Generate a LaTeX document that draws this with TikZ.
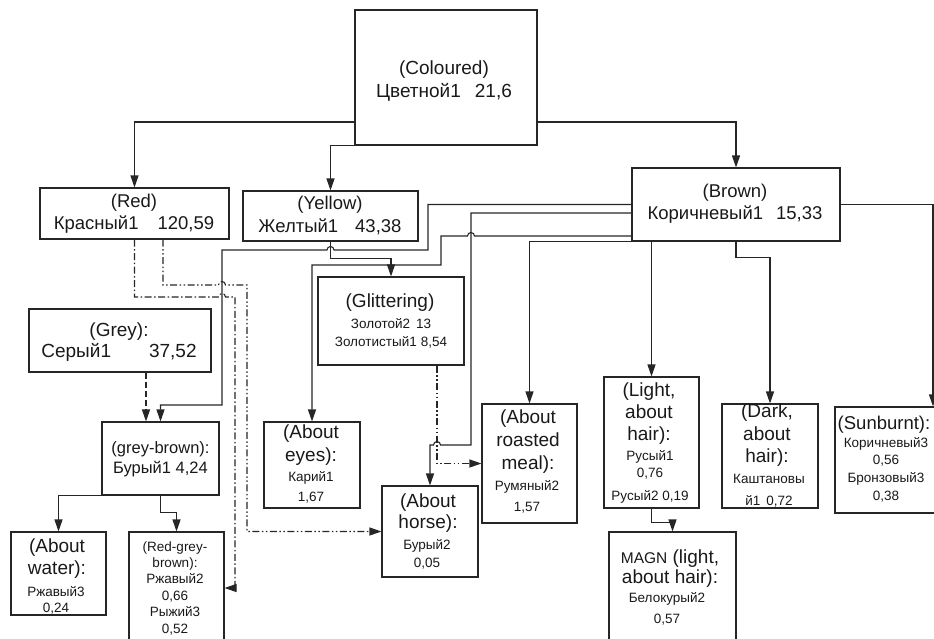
\documentclass[tikz,border=0pt]{standalone}
\usepackage{fontspec}
\setmainfont{Liberation Sans}
\usetikzlibrary{arrows.meta}

% font size / baseline skip shortcut
\newcommand\fsz[2]{\fontsize{#1}{#2}\selectfont}

\begin{document}
\begin{tikzpicture}[x=1pt,y=-1pt,
  box/.style={draw=black!85, line width=1.1pt, inner sep=0pt, rectangle},
  wire/.style={draw=black!85, line width=1.1pt},
  arr/.style={wire, -{Triangle[length=12pt,width=8pt]}},
  dashdot/.style={dash pattern=on 7pt off 2.5pt on 1.5pt off 2.5pt},
  dashdotdot/.style={dash pattern=on 7pt off 2.5pt on 1.5pt off 2.5pt on 1.5pt off 2.5pt},
  lbl/.style={align=center, inner sep=0pt, text=black!90},
]
\useasboundingbox (0,0) rectangle (934,638);
\clip (0,0) rectangle (934,638);

% ---- boxes ----
\node[box, minimum width=182pt, minimum height=135pt] (col)   at (446,77.5)  {};
\node[box, minimum width=189pt, minimum height=51pt]  (red)   at (134.5,213.5) {};
\node[box, minimum width=175pt, minimum height=50pt]  (yel)   at (330.5,216) {};
\node[box, minimum width=208pt, minimum height=73pt]  (brown) at (736,204.5) {};
\node[box, minimum width=182pt, minimum height=63pt]  (grey)  at (120,340.5) {};
\node[box, minimum width=146pt, minimum height=88pt]  (glit)  at (391,321) {};
\node[box, minimum width=117pt, minimum height=73pt]  (gb)    at (160.5,458.5) {};
\node[box, minimum width=95pt,  minimum height=83pt]  (water) at (58.5,573.5) {};
\node[box, minimum width=95pt,  minimum height=118pt] (rgb)   at (176.5,591) {};
\node[box, minimum width=96pt,  minimum height=86pt]  (eyes)  at (312,465) {};
\node[box, minimum width=96pt,  minimum height=91pt]  (horse) at (430,531.5) {};
\node[box, minimum width=95pt,  minimum height=119pt] (meal)  at (529.5,463.5) {};
\node[box, minimum width=95pt,  minimum height=131pt] (light) at (651.5,442.5) {};
\node[box, minimum width=96pt,  minimum height=104pt] (dark)  at (770,456) {};
\node[box, minimum width=106pt, minimum height=106pt] (sun)   at (888,460) {};
\node[box, minimum width=127pt, minimum height=118pt] (magn)  at (672.5,591) {};

% ---- labels ----
\node[lbl, font={\fsz{19}{23}}]   (col-t)   at (444,81.5) {(Coloured)\\Цветной1\hspace{14pt}21,6};
\node[lbl, font={\fsz{18.5}{22}}] (red-t)   at (134,214) {(Red)\\Красный1\hspace{19pt}120,59};
\node[lbl, font={\fsz{18.5}{23}}] (yel-t)   at (330,215) {(Yellow)\\Желтый1\hspace{17pt}43,38};
\node[lbl, font={\fsz{18.5}{22}}] (brown-t) at (735,204) {(Brown)\\Коричневый1\hspace{13pt}15,33};
\node[lbl, font={\fsz{19}{21}}]   (grey-t)  at (119,342) {(Grey):\\Серый1\hspace{38pt}37,52};
\node[lbl, font={\fsz{19}{22}}]   (glit-a)  at (390,303) {(Glittering)};
\node[lbl, font={\fsz{13.5}{18}}] (glit-b)  at (391,333) {Золотой2\hspace{6pt}13\\Золотистый1\hspace{4pt}8,54};
\node[lbl, font={\fsz{16.5}{20}}] (gb-t)    at (160.5,459) {(grey-brown):\\Бурый1 4,24};
\node[lbl, font={\fsz{19}{22}}]   (water-a) at (57,559) {(About\\water):};
\node[lbl, font={\fsz{13.5}{16}}] (water-b) at (56,600) {Ржавый3\\0,24};
\node[lbl, font={\fsz{13.5}{16.4}}] (rgb-t) at (175,588) {(Red-grey-\\brown):\\Ржавый2\\0,66\\Рыжий3\\0,52};
\node[lbl, font={\fsz{19}{23.5}}] (eyes-a)  at (311,445) {(About\\eyes):};
\node[lbl, font={\fsz{13.5}{20}}] (eyes-b)  at (311,487) {Карий1\\1,67};
\node[lbl, font={\fsz{19}{21}}]   (horse-a) at (428,513.5) {(About\\horse):};
\node[lbl, font={\fsz{13.5}{18}}] (horse-b) at (427,554) {Бурый2\\0,05};
\node[lbl, font={\fsz{19}{23}}]   (meal-a)  at (528,442) {(About\\roasted\\meal):};
\node[lbl, font={\fsz{13.5}{21}}] (meal-b)  at (527,496.5) {Румяный2\\1,57};
\node[lbl, font={\fsz{19}{22}}]   (light-a) at (649,414) {(Light,\\about\\hair):};
\node[lbl, font={\fsz{13.5}{17}}] (light-b) at (650,477) {Русый1\\0,76\\[6pt]Русый2 0,19};
\node[lbl, font={\fsz{19}{22.5}}] (dark-a)  at (767,435.5) {(Dark,\\about\\hair):};
\node[lbl, font={\fsz{13.5}{22}}] (dark-b)  at (769,491) {Каштановы\\й1\hspace{6pt}0,72};
\node[lbl, font={\fsz{18.5}{22}}] (sun-a)   at (884,425) {(Sunburnt):};
\node[lbl, font={\fsz{13.5}{17.7}}] (sun-b) at (886,469.5) {Коричневый3\\0,56\\Бронзовый3\\0,38};
\node[lbl, font={\fsz{19}{19.5}}] (magn-a)  at (670,568.5) {{\fsz{15.5}{19.5}MAGN} (light,\\about hair):};
\node[lbl, font={\fsz{13.5}{21}}] (magn-b)  at (667,608.5) {Белокурый2\\0,57};

% ---- connectors from Coloured ----
\draw[arr] ([shift={(0,44.5)}]col.west) -| (red.north);
\draw[arr] (col.south west) -| (yel.north);
\draw[arr] ([shift={(0,44.5)}]col.east) -| (brown.north);

% ---- connectors from Brown ----
\draw[arr] (brown.west) -- (428,204.5) -- (428,250) -- (334,250)
  arc[start angle=0,end angle=-180,radius=3.5] -- (222,250) -- (222,405) -- (160.5,405) -- (gb.north);
\draw[arr] ([shift={(0,8.5)}]brown.west) -- (471,213) -- (471,445) -- (440.5,445)
  arc[start angle=0,end angle=-180,radius=3.5] -- (430,445) -- (horse.north);
\draw[arr] ([shift={(0,31.5)}]brown.west) -- (474.5,236)
  arc[start angle=0,end angle=-180,radius=3.5] -- (441,236) -- (441,265) -- (312,265) -- (eyes.north);
\draw[arr] (brown.south west) -| (meal.north);
\draw[arr] (brown.south -| light.north) -- (light.north);
\draw[arr] (brown.south) -- ++(0,16) -| (dark.north);
\draw[arr] (brown.east) -| ([xshift=45pt]sun.north);

% ---- other solid connectors ----
\draw[arr] (yel.south) -- ++(0,17) -| (glit.north);
\draw[arr] ([xshift=-15pt]gb.south) -| (water.north);
\draw[arr] (gb.south) -- ++(0,17) -| (rgb.north);
\draw[arr] (light.south) -- ++(0,14) -| (magn.north);

% ---- broken connectors ----
\coordinate (gy) at ([xshift=26pt]grey.south);
\draw[arr, dash pattern=on 6pt off 3pt] (gy) -- (gy |- gb.north);
\draw[arr, dashdotdot] ([xshift=28.5pt]red.south) -- (163,285) -- (218.5,285)
  arc[start angle=180,end angle=360,radius=3.5] -- (247,285) |- (horse.west);
\coordinate (rr) at (235,588);
\draw[arr, dashdot] (red.south) -- (134.5,297) -- (218.5,297)
  arc[start angle=180,end angle=360,radius=3.5] -- (235,297) -- (rr) -- (rr -| rgb.east);
\coordinate (gm) at ([xshift=46pt]glit.south);
\draw[arr, dashdotdot] (gm) |- (meal.west);
\end{tikzpicture}
\end{document}
